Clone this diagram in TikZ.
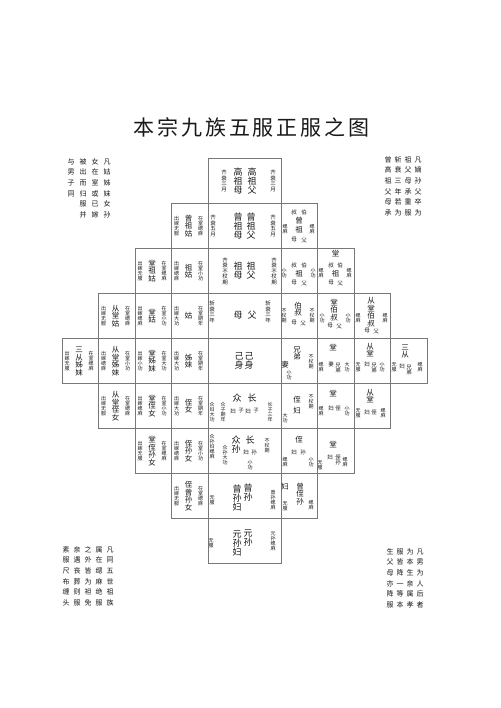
\documentclass[tikz,border=0pt]{standalone}
\usepackage{fontspec}
\setmainfont{Noto Sans CJK SC}
\newfontfamily\titlefont[LetterSpace=14]{Noto Sans CJK SC}
\definecolor{ink}{RGB}{25,25,25}
\definecolor{gridc}{RGB}{120,120,120}
\newdimen\vtgap
\def\vtend{}
\def\vt#1{\vbox{\offinterlineskip\vtloop#1\vtend}}
\def\vtloop#1{\ifx#1\vtend\else\hbox to 1em{\hss\vrule height .88em depth .12em width 0pt\relax #1\hss}\kern\vtgap\expandafter\vtloop\fi}
\tikzset{
  cellbox/.style={draw=gridc, line width=0.6pt},
  ann/.style={inner sep=0, text=ink, font=\fontsize{5}{5}\selectfont},
  can/.style={inner sep=0, text=ink, font=\fontsize{5.5}{5.5}\selectfont},
  nm/.style={inner sep=0, text=ink, font=\fontsize{7.5}{7.5}\selectfont},
  cnm/.style={inner sep=0, text=ink, font=\fontsize{9}{9}\selectfont},
  sm/.style={inner sep=0, text=ink, font=\fontsize{5.5}{5.5}\selectfont},
  corner/.style={inner sep=0, text=ink, anchor=north, font=\fontsize{7}{7}\selectfont},
}
\newcommand\fem[6]{%
  \node[ann] (#1a) at (#2+29,#3) {\vt{#5}};
  \node[nm]  (#1b) at (#2+17,#3) {\vt{#4}};
  \node[ann] (#1c) at (#2+5,#3)  {\vt{#6}};}
\begin{document}
\begin{tikzpicture}[x=1pt,y=-1pt]
\useasboundingbox (0,0) rectangle (500,708);
\fill[white] (0,0) rectangle (500,708);
% title
\node[inner sep=0, text=ink, font=\titlefont\fontsize{21}{21}\selectfont] (title) at (251.5,127) {本宗九族五服正服之图};
% cells
\foreach \x/\y/\w in {
  208/158.5/73,
  171.5/203.5/36.5, 208/203.5/73, 281/203.5/36.5,
  135/248.5/36.5, 171.5/248.5/36.5, 208/248.5/73, 281/248.5/36.5, 317.5/248.5/36.5,
  98.5/293.5/36.5, 135/293.5/36.5, 171.5/293.5/36.5, 208/293.5/73, 281/293.5/36.5, 317.5/293.5/36.5, 354/293.5/36.5,
  62/338.5/36.5, 98.5/338.5/36.5, 135/338.5/36.5, 171.5/338.5/36.5, 208/338.5/73, 281/338.5/36.5, 317.5/338.5/36.5, 354/338.5/36.5, 390.5/338.5/36.5,
  98.5/383.5/36.5, 135/383.5/36.5, 171.5/383.5/36.5, 208/383.5/73, 281/383.5/36.5, 317.5/383.5/36.5, 354/383.5/36.5,
  135/428.5/36.5, 171.5/428.5/36.5, 208/428.5/73, 281/428.5/36.5, 317.5/428.5/36.5,
  171.5/473.5/36.5, 208/473.5/73, 281/473.5/36.5,
  208/518.5/73}
  \draw[cellbox] (\x,\y) rectangle ++(\w,45);
% row 1
\node[can] (a1) at (273,181) {\vt{齐衰三月}};
\node[cnm] (a2) at (252,181) {\vt{高祖父}};
\node[cnm] (a3) at (238,181) {\vt{高祖母}};
\node[can] (a4) at (224,181) {\vt{齐衰三月}};
% row 2
\node[can] (b1) at (273,226) {\vt{齐衰五月}};
\node[cnm] (b2) at (251,226) {\vt{曾祖父}};
\node[cnm] (b3) at (238,226) {\vt{曾祖母}};
\node[can] (b4) at (213,226) {\vt{齐衰五月}};
\fem{bl1}{171.5}{226}{曾祖姑}{在室缌麻}{出嫁无服}
\node[sm] (br1) at (294,212) {叔};
\node[sm] (br2) at (304,212) {伯};
\node[nm] (br3) at (299,221) {曾};
\node[nm] (br4) at (299,230) {祖};
\node[sm] (br5) at (294,240) {母};
\node[sm] (br6) at (304,240) {父};
\node[ann] (br7) at (285,229) {\vt{缌麻}};
\node[ann] (br8) at (312,229) {\vt{缌麻}};
% row 3
\node[can] (c1) at (274,271) {\vt{齐衰不杖期}};
\node[cnm] (c2) at (251,271) {\vt{祖父}};
\node[cnm] (c3) at (238,271) {\vt{祖母}};
\node[can] (c4) at (225,271) {\vt{齐衰不杖期}};
\fem{cl1}{171.5}{271}{祖姑}{在室小功}{出嫁缌麻}
\fem{cl2}{135}{271}{堂祖姑}{在室缌麻}{出嫁无服}
\node[sm] (cr1) at (294,265) {叔};
\node[sm] (cr2) at (304,265) {伯};
\node[nm] (cr3) at (299,274) {祖};
\node[sm] (cr4) at (294,283) {母};
\node[sm] (cr5) at (304,283) {父};
\node[ann] (cr6) at (284,273) {\vt{小功}};
\node[ann] (cr7) at (313,273) {\vt{小功}};
\node[nm] (cs1) at (335.5,254) {堂};
\node[sm] (cs2) at (331,265) {叔};
\node[sm] (cs3) at (340,265) {伯};
\node[nm] (cs4) at (335.5,274) {祖};
\node[sm] (cs5) at (331,283) {母};
\node[sm] (cs6) at (340,283) {父};
\node[ann] (cs7) at (321,273) {\vt{缌麻}};
\node[ann] (cs8) at (349,273) {\vt{缌麻}};
% row 4
\node[can] (d1) at (268,312) {\vt{斩衰三年}};
\node[cnm] (d2) at (252,315) {父};
\node[cnm] (d3) at (238,315) {母};
\node[can] (d4) at (212,312) {\vt{斩衰三年}};
\fem{dl1}{171.5}{316}{姑}{在室期年}{出嫁大功}
\fem{dl2}{135}{316}{堂姑}{在室小功}{出嫁缌麻}
\fem{dl3}{98.5}{316}{从堂姑}{在室缌麻}{出嫁无服}
\node[nm] (dr1) at (298,309) {\vt{伯叔}};
\node[sm] (dr2) at (294,323) {母};
\node[sm] (dr3) at (303,323) {父};
\node[ann] (dr4) at (284,316) {\vt{不杖期}};
\node[ann] (dr5) at (312,316) {\vt{不杖期}};
\node[nm] (ds1) at (334,310) {\vt{堂伯叔}};
\node[sm] (ds2) at (330,326) {母};
\node[sm] (ds3) at (339,326) {父};
\node[ann] (ds4) at (322,318) {\vt{小功}};
\node[ann] (ds5) at (348,318) {\vt{小功}};
\node[nm] (dt1) at (371,312) {\vt{从堂伯叔}};
\node[sm] (dt2) at (367,331) {母};
\node[sm] (dt3) at (376,331) {父};
\node[ann] (dt4) at (358,318) {\vt{缌麻}};
\node[ann] (dt5) at (385,318) {\vt{缌麻}};
% row 5
\node[cnm] (e1) at (249,361) {\vt{己身}};
\node[cnm] (e2) at (239,361) {\vt{己身}};
\fem{el1}{171.5}{361}{姊妹}{在室期年}{出嫁大功}
\fem{el2}{135}{361}{堂姊妹}{在室大功}{出嫁小功}
\fem{el3}{98.5}{361}{从堂姊妹}{在室小功}{出嫁缌麻}
\fem{el4}{62}{361}{三从姊妹}{在室缌麻}{出嫁无服}
\node[nm] (er1) at (297,353) {\vt{兄弟}};
\node[nm] (er2) at (285,365) {妻};
\node[ann] (er3) at (289,375) {\vt{小功}};
\node[ann] (er4) at (311,362) {\vt{不杖期}};
\node[nm] (es1) at (333,348) {堂};
\node[sm] (es2) at (338,368) {\vt{兄弟}};
\node[sm] (es3) at (331,364) {妻};
\node[ann] (es4) at (347,367) {\vt{大功}};
\node[ann] (es5) at (321,367) {\vt{缌麻}};
\node[nm] (et1) at (370,350) {\vt{从堂}};
\node[sm] (et2) at (374,368) {\vt{兄弟}};
\node[sm] (et3) at (367,364) {妇};
\node[ann] (et4) at (382,367) {\vt{小功}};
\node[ann] (et5) at (358,367) {\vt{无服}};
\node[nm] (eu1) at (405,351) {\vt{三从}};
\node[sm] (eu2) at (409,370) {\vt{兄弟}};
\node[sm] (eu3) at (402,366) {妇};
\node[ann] (eu4) at (420,367) {\vt{缌麻}};
\node[ann] (eu5) at (394,367) {\vt{无服}};
% row 6
\node[ann] (f1) at (270,412) {\vt{长子三年}};
\node[cnm] (f2) at (252,398) {长};
\node[sm] (f3) at (256,411) {子};
\node[sm] (f4) at (248,411) {妇};
\node[cnm] (f5) at (237,398) {众};
\node[sm] (f6) at (241,411) {子};
\node[sm] (f7) at (233,411) {妇};
\node[ann] (f8) at (223,412) {\vt{众子期年}};
\node[ann] (f9) at (212,412) {\vt{众妇大功}};
\fem{fl1}{171.5}{406}{侄女}{在室期年}{出嫁大功}
\fem{fl2}{135}{406}{堂侄女}{在室小功}{出嫁缌麻}
\fem{fl3}{98.5}{406}{从堂侄女}{在室缌麻}{出嫁无服}
\node[nm] (fr1) at (297,400) {侄};
\node[nm] (fr2) at (297,411) {妇};
\node[ann] (fr3) at (311,402) {\vt{不杖期}};
\node[ann] (fr4) at (285,418) {\vt{大功}};
\node[nm] (fs1) at (333,394) {堂};
\node[sm] (fs2) at (338,408) {侄};
\node[sm] (fs3) at (331,408) {妇};
\node[ann] (fs4) at (347,411) {\vt{小功}};
\node[ann] (fs5) at (321,411) {\vt{缌麻}};
\node[nm] (ft1) at (370,396) {\vt{从堂}};
\node[sm] (ft2) at (374,412) {侄};
\node[sm] (ft3) at (367,412) {妇};
\node[ann] (ft4) at (383,413) {\vt{缌麻}};
\node[ann] (ft5) at (358,413) {\vt{无服}};
% row 7
\node[ann] (g1) at (267,446) {\vt{不杖期}};
\node[cnm] (g2) at (250,440) {长};
\node[sm] (g3) at (254,452) {孙};
\node[sm] (g4) at (246,452) {妇};
\node[ann] (g5) at (250,465) {\vt{小功}};
\node[cnm] (g6) at (236,445) {\vt{众孙}};
\node[ann] (g7) at (225,455) {\vt{众孙大功}};
\node[ann] (g8) at (212,447) {\vt{众孙妇缌麻}};
\fem{gl1}{171.5}{451}{侄孙女}{在室小功}{出嫁缌麻}
\fem{gl2}{135}{451}{堂侄孙女}{在室缌麻}{出嫁无服}
\node[nm] (gr1) at (299,440) {侄};
\node[sm] (gr2) at (303,452) {孙};
\node[sm] (gr3) at (294,452) {妇};
\node[ann] (gr4) at (311,462) {\vt{小功}};
\node[ann] (gr5) at (285,462) {\vt{缌麻}};
\node[nm] (gs1) at (333,445) {堂};
\node[sm] (gs2) at (338,460) {\vt{侄孙}};
\node[sm] (gs3) at (330,457) {妇};
\node[ann] (gs4) at (345,462) {\vt{缌麻}};
\node[ann] (gs5) at (320,465) {\vt{无服}};
% row 8
\node[ann] (h1) at (273,500) {\vt{曾孙缌麻}};
\node[cnm] (h2) at (248,493) {\vt{曾孙}};
\node[cnm] (h3) at (237,498) {\vt{曾孙妇}};
\node[ann] (h4) at (212,500) {\vt{无服}};
\fem{hl1}{171.5}{496}{侄曾孙女}{在室缌麻}{出嫁无服}
\node[nm] (hr1) at (300,494) {\vt{曾侄孙}};
\node[nm] (hr2) at (285,487) {妇};
\node[ann] (hr3) at (285,506) {\vt{无服}};
\node[ann] (hr4) at (311,505) {\vt{缌麻}};
% row 9
\node[ann] (i1) at (273,541) {\vt{元孙缌麻}};
\node[cnm] (i2) at (248,538) {\vt{元孙}};
\node[cnm] (i3) at (237,543) {\vt{元孙妇}};
\node[ann] (i4) at (211,543) {\vt{无服}};
% corner notes
\vtgap=3.6pt
\node[corner] (k1) at (107,158) {\vt{凡姑姊妹女孙}};
\node[corner] (k2) at (95,158) {\vt{女在室或已嫁}};
\node[corner] (k3) at (83,158) {\vt{被出而归服并}};
\node[corner] (k4) at (71,158) {\vt{与男子同}};
\node[corner] (k5) at (418,156) {\vt{凡嫡孙父卒为}};
\node[corner] (k6) at (408,156) {\vt{祖父母承重服}};
\node[corner] (k7) at (398,156) {\vt{斩衰三年若为}};
\node[corner] (k8) at (388,156) {\vt{曾高祖父母承}};
\node[corner] (k9) at (110,546) {\vt{凡同五世祖族}};
\node[corner] (k10) at (99,546) {\vt{属在缌麻绝服}};
\node[corner] (k11) at (88,546) {\vt{之外皆为袒免}};
\node[corner] (k12) at (77,546) {\vt{亲遇丧葬则服}};
\node[corner] (k13) at (66,546) {\vt{素服尺布缠头}};
\node[corner] (k14) at (420,548) {\vt{凡男为人后者}};
\node[corner] (k15) at (410,548) {\vt{为本生亲属孝}};
\node[corner] (k16) at (400,548) {\vt{服皆降一等本}};
\node[corner] (k17) at (390,548) {\vt{生父母亦降服}};
\end{tikzpicture}
\end{document}
